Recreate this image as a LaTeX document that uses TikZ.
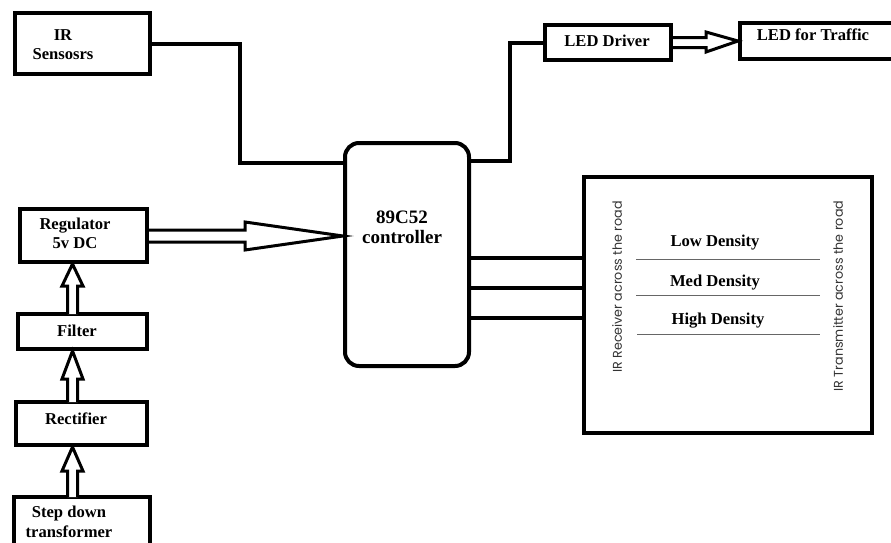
\documentclass[tikz,border=0pt]{standalone}
\usepackage{fontspec}
\usetikzlibrary{calc}
\setmainfont{Liberation Serif}
\newfontfamily\rotfont{Poppins}
\begin{document}
\begin{tikzpicture}[x=1pt,y=-1pt,
  box/.style={draw=black,line width=4pt,minimum width=#1,inner sep=0pt},
  lbl/.style={font=\bfseries\fontsize{16.6}{19}\selectfont,align=center,inner sep=0pt},
  conn/.style={line width=4pt,line join=miter},
  dbl/.style={draw=black,fill=white,line width=3pt,line join=miter},
  dens/.style={draw=black!60,line width=1pt},
  rot/.style={font=\rotfont\fontsize{12.7}{14}\selectfont,text=black!80,rotate=90,inner sep=0pt}]
\useasboundingbox (0,0) rectangle (891,542);
\fill[white] (0,0) rectangle (891,542);
\clip (0,0) rectangle (891,542);
% boxes
\node[box=135pt,minimum height=61pt] (ir) at (82.5,43.5) {};
\node[box=126pt,minimum height=35pt] (drv) at (608,42.5) {};
\node[box=155pt,minimum height=36pt] (traf) at (817.5,41) {};
\node[box=124pt,minimum height=223pt,rounded corners=14pt] (ctrl) at (407,254.5) {};
\node[box=288pt,minimum height=256pt] (rx) at (728,305) {};
\node[box=127pt,minimum height=53pt] (reg) at (83.5,235.5) {};
\node[box=129pt,minimum height=35pt] (filt) at (82.5,331.5) {};
\node[box=131pt,minimum height=43pt] (rect) at (81.5,423.5) {};
\node[box=136pt,minimum height=53pt] (step) at (82,523.5) {};
% texts
\node[lbl] (tir) at (63,45) {IR\\Sensosrs};
\node[lbl] (tdrv) at (607,41) {LED Driver};
\node[lbl] (ttraf) at (813,35) {LED for Traffic};
\node[lbl,font=\bfseries\fontsize{19}{20}\selectfont] (tctrl) at (402,227) {89C52\\controller};
\node[lbl] (treg) at (75,233) {Regulator\\5v DC};
\node[lbl] (tfilt) at (77,331) {Filter};
\node[lbl] (trect) at (76,419) {Rectifier};
\node[lbl,font=\bfseries\fontsize{16.6}{20}\selectfont] (tstep) at (69,522) {Step down\\transformer};
\node[lbl] (tlow) at (715,243) {Low Density};
\node[lbl] (tmed) at (715,283) {Med Density};
\node[lbl] (thigh) at (718,321) {High Density};
\node[rot] (trx) at (617,287) {IR Receiver across the road};
\node[rot] (ttx) at (838,296) {IR Transmitter across the road};
% density lines
\draw[dens] (636,259) -- (820,259);
\draw[dens] (636,295) -- (820,295);
\draw[dens] (637,334) -- (820,334);
% connectors
\coordinate (c1) at (240,163);
\draw[conn] (ir.east) -| (c1) -- (c1 -| ctrl.west);
\coordinate (c2) at (510,161);
\draw[conn] (c2 -| ctrl.east) -- (c2) |- (drv.west);
\coordinate (l1) at (500,258);
\coordinate (l2) at (500,288);
\coordinate (l3) at (500,318);
\draw[conn] (l1 -| ctrl.east) -- (l1 -| rx.west);
\draw[conn] (l2 -| ctrl.east) -- (l2 -| rx.west);
\draw[conn] (l3 -| ctrl.east) -- (l3 -| rx.west);
% double arrows
\draw[dbl] ($(reg.east)+(0,-5.5)$) -- (245,230) -- (245,222) -- ($(ctrl.west)+(0,-18.5)$) -- (245,250) -- (245,242) -- ($(reg.east)+(0,6.5)$);
\draw[dbl] ($(drv.east)+(0,-5)$) -- (706,37.5) -- (706,32) -- (traf.west) -- (706,52) -- (706,47.5) -- ($(drv.east)+(0,5)$);
\draw[dbl] (67.5,314) -- (67.5,286) -- (62,286) -- (72.5,264) -- (83,286) -- (77.5,286) -- (77.5,314);
\draw[dbl] (67.5,402) -- (67.5,379) -- (62,379) -- (72.5,351) -- (83,379) -- (77.5,379) -- (77.5,402);
\draw[dbl] (67.5,497) -- (67.5,471) -- (62,471) -- (72.5,447) -- (83,471) -- (77.5,471) -- (77.5,497);
\end{tikzpicture}
\end{document}
